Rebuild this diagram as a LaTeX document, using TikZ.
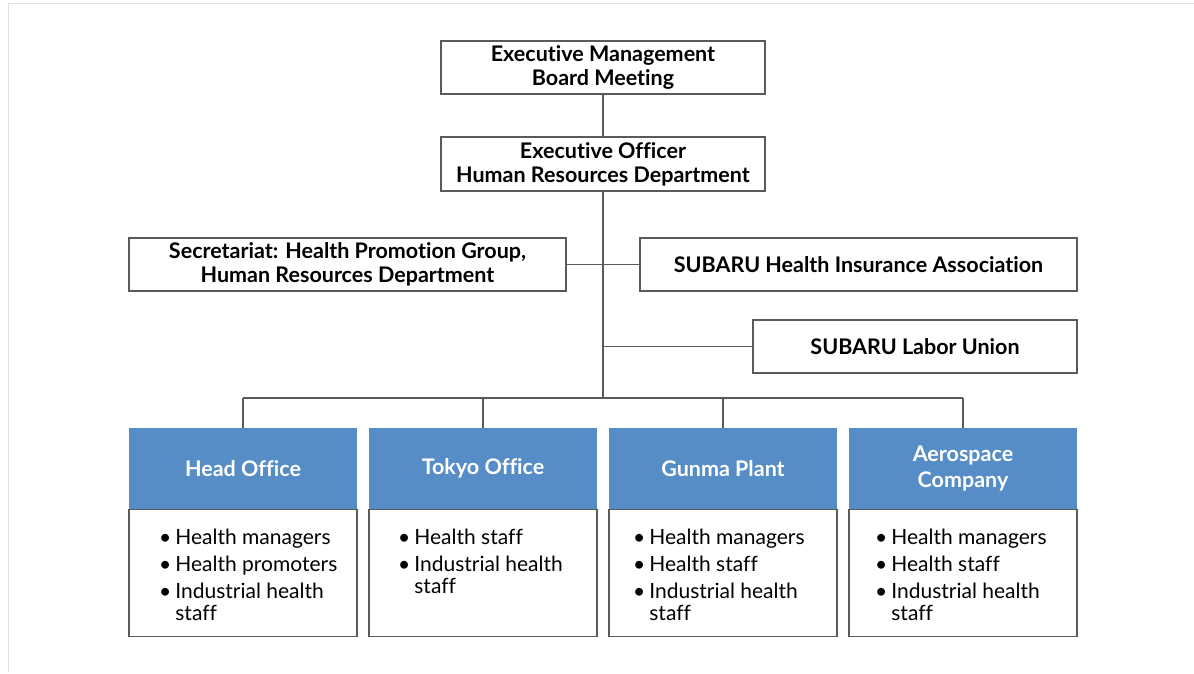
\documentclass[tikz,border=0pt]{standalone}
\usepackage{fontspec}
\setmainfont{Lato}[Ligatures=NoCommon]
\definecolor{hdr}{RGB}{86,141,199}
\definecolor{ln}{RGB}{90,90,90}
\definecolor{frame}{RGB}{225,225,225}
\begin{document}
\begin{tikzpicture}[x=1pt,y=-1pt,
  box/.style={draw=ln,line width=1.2pt,fill=white,inner sep=0pt,font=\fontsize{21.5}{24}\selectfont\bfseries,align=center},
  hdrbox/.style={fill=hdr,inner sep=0pt,text=white,font=\fontsize{21.5}{26}\selectfont\bfseries,align=center},
  bodybox/.style={draw=ln,line width=1.2pt,fill=white,inner sep=0pt},
  blist/.style={anchor=north west,inner sep=0pt,font=\fontsize{21}{22}\selectfont},
  conn/.style={draw=ln,line width=1.2pt}]
\useasboundingbox (0,0) rectangle (1194,673);
\draw[frame,line width=1.5pt] (1200,3.5) -- (8.5,3.5) -- (8.5,672);
% top boxes
\node[box,minimum width=324pt,minimum height=53pt] (emb) at (603,67.5) {Executive Management\\Board Meeting};
\node[box,minimum width=324pt,minimum height=54pt] (eo) at (603,164) {Executive Officer\\Human Resources Department};
\node[box,minimum width=437pt,minimum height=53pt] (sec) at (347.5,264.5) {Secretariat: Health Promotion Group,\\Human Resources Department};
\node[box,minimum width=437pt,minimum height=53pt] (ins) at (858.5,264.5) {SUBARU Health Insurance Association};
\node[box,minimum width=324pt,minimum height=53pt] (lab) at (915,346.5) {SUBARU Labor Union};
\coordinate (j1) at (603,264.5);
\coordinate (j2) at (603,346.5);
\coordinate (j3) at (603,398);
% bottom units
\foreach \n/\cx/\t in {ho/243/Head Office,to/483/Tokyo Office,gu/723/Gunma Plant,ae/963/{Aerospace\\Company}}{
  \node[hdrbox,minimum width=228pt,minimum height=81pt] (\n) at (\cx,468.5) {\t};
  \node[bodybox,minimum width=228pt,minimum height=127pt,anchor=north] (\n b) at (\n.south) {};
  \draw[conn] (j3 -| \n) -- (\n.north);
}
\draw[conn] (emb) -- (eo);
\draw[conn] (eo.south) -- (j3);
\draw[conn] (sec.east) -- (ins.west);
\draw[conn] (j2) -- (lab.west);
\draw[conn] (j3 -| ho) -- (j3 -| ae);
% lists
\node[blist] (hol) at (159,529) {\begin{tabular}{@{}l@{\hspace{4pt}}l@{}}\textbullet & Health managers\\[5pt] \textbullet & Health promoters\\[5pt] \textbullet & Industrial health\\ & staff\end{tabular}};
\node[blist] (tol) at (398,529) {\begin{tabular}{@{}l@{\hspace{4pt}}l@{}}\textbullet & Health staff\\[5pt] \textbullet & Industrial health\\ & staff\end{tabular}};
\node[blist] (gul) at (633,529) {\begin{tabular}{@{}l@{\hspace{4pt}}l@{}}\textbullet & Health managers\\[5pt] \textbullet & Health staff\\[5pt] \textbullet & Industrial health\\ & staff\end{tabular}};
\node[blist] (ael) at (875,529) {\begin{tabular}{@{}l@{\hspace{4pt}}l@{}}\textbullet & Health managers\\[5pt] \textbullet & Health staff\\[5pt] \textbullet & Industrial health\\ & staff\end{tabular}};
\end{tikzpicture}
\end{document}
